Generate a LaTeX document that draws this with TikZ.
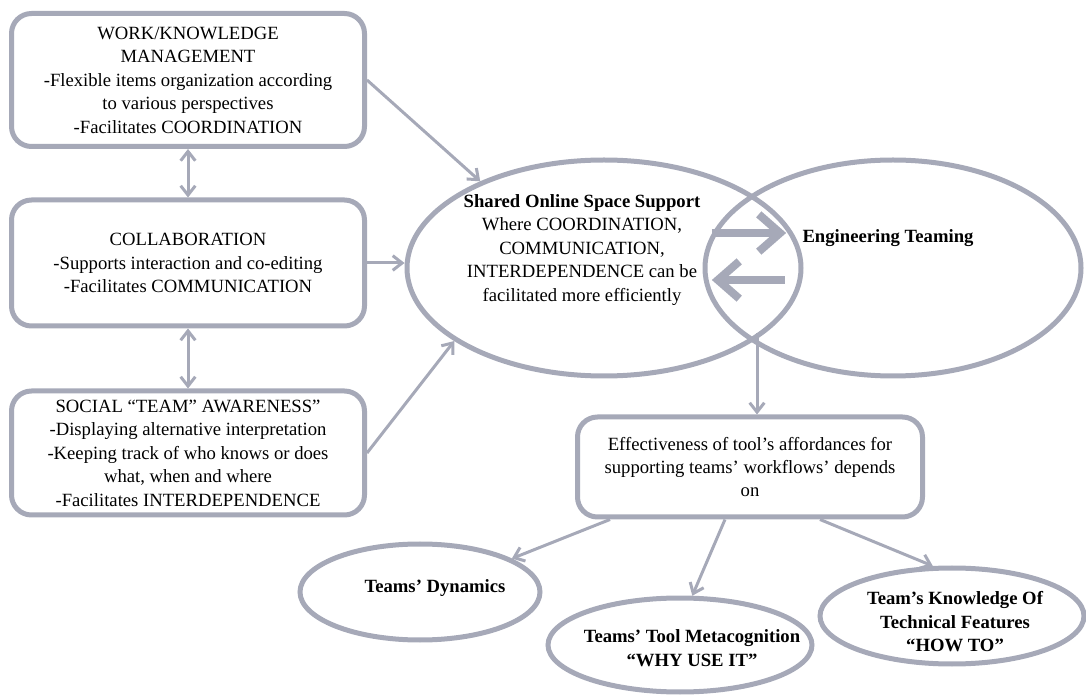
\documentclass[tikz,border=0pt]{standalone}
\usepackage{fontspec}
\setmainfont{Liberation Serif}
\usepackage{tikz}
\usetikzlibrary{arrows.meta,positioning,shapes.geometric,calc}
\definecolor{frameGrey}{HTML}{A6A9B8}
\tikzset{
  blok/.style={draw=frameGrey, line width=3.75pt, rounded corners=15pt, fill=white, align=center, inner ysep=1pt, font=\fontsize{14}{17.6}\selectfont, minimum width=264.75pt},
  bubble/.style={draw=frameGrey, line width=3.75pt, ellipse, inner sep=0pt},
  bubtxt/.style={align=center, font=\fontsize{14}{17.6}\selectfont\bfseries},
  arrthin/.style={draw=frameGrey, line width=2.25pt, -{Straight Barb[length=7pt,width=11pt]}},
  arrboth/.style={draw=frameGrey, line width=2.25pt, {Straight Barb[length=7pt,width=11pt]}-{Straight Barb[length=7pt,width=11pt]}},
  arrbig/.style={draw=frameGrey, line width=6pt, -{Straight Barb[length=16pt,width=28pt]}},
}

\begin{document}
\begin{tikzpicture}[x=0.75pt,y=-0.75pt]
\useasboundingbox (0,0) rectangle (1086,698);

% left column
\node[blok, minimum height=99.75pt] (work) at (188,80) {WORK/KNOWLEDGE\\MANAGEMENT\\-Flexible items organization according\\to various perspectives\\-Facilitates COORDINATION};
\node[blok, minimum height=94.5pt] (collab) at (188,263) {COLLABORATION\\-Supports interaction and co-editing\\-Facilitates COMMUNICATION};
\node[blok, minimum height=93pt] (social) at (188,453) {SOCIAL “TEAM” AWARENESS”\\-Displaying alternative interpretation\\-Keeping track of who knows or does\\what, when and where\\-Facilitates INTERDEPENDENCE};

% the two overlapping ellipses
\node[bubble, minimum width=295.5pt, minimum height=162pt] (shared) at (604,268) {};
\node[bubble, minimum width=282pt, minimum height=162pt] (eng) at (893,268) {};
\node[align=center, font=\fontsize{14}{17.6}\selectfont] (sharedtxt) at (582,250) {\textbf{Shared Online Space Support}\\Where COORDINATION,\\COMMUNICATION,\\INTERDEPENDENCE can be\\facilitated more efficiently};
\node[bubtxt] (engtxt) at (888,238) {Engineering Teaming};

% lower part
\node[blok, minimum width=258.75pt, minimum height=75pt] (effect) at (750,467) {Effectiveness of tool’s affordances for\\supporting teams’ workflows’ depends\\on};
\node[bubble, minimum width=180pt, minimum height=72pt] (dyn) at (420,592) {};
\node[bubtxt] (dyntxt) at (435,588) {Teams’ Dynamics};
\node[bubble, minimum width=198pt, minimum height=70.5pt] (meta) at (680,645) {};
\node[bubtxt] (metatxt) at (692,648) {Teams’ Tool Metacognition\\“WHY USE IT”};
\node[bubble, minimum width=198pt, minimum height=72pt] (know) at (952,616) {};
\node[bubtxt] (knowtxt) at (955,622) {Team’s Knowledge Of\\Technical Features\\“HOW TO”};

% connectors
\draw[arrthin] (work.east) -- (shared.145);
\draw[arrthin] (collab.east) -- (collab.east -| shared.west);
\draw[arrthin] (social.east) -- (shared.206);
\draw[arrboth] (work.south) -- (collab.north);
\draw[arrboth] (collab.south) -- (social.north);

\draw[arrbig] ([xshift=7pt,yshift=26.25pt]eng.west) -- ([xshift=-13pt,yshift=26.25pt]shared.east);
\draw[arrbig] ([xshift=-14pt,yshift=-9pt]shared.east) -- ([xshift=7pt,yshift=-9pt]eng.west);

\coordinate (lensbot) at (757,333);
\draw[arrthin] (lensbot) -- (lensbot |- effect.north);

\draw[arrthin] ([xshift=-105pt]effect.south) -- (dyn.20);
\draw[arrthin] ([xshift=-18.75pt]effect.south) -- (meta.76);
\draw[arrthin] ([xshift=52.5pt]effect.south) -- (know.111);
\end{tikzpicture}
\end{document}
